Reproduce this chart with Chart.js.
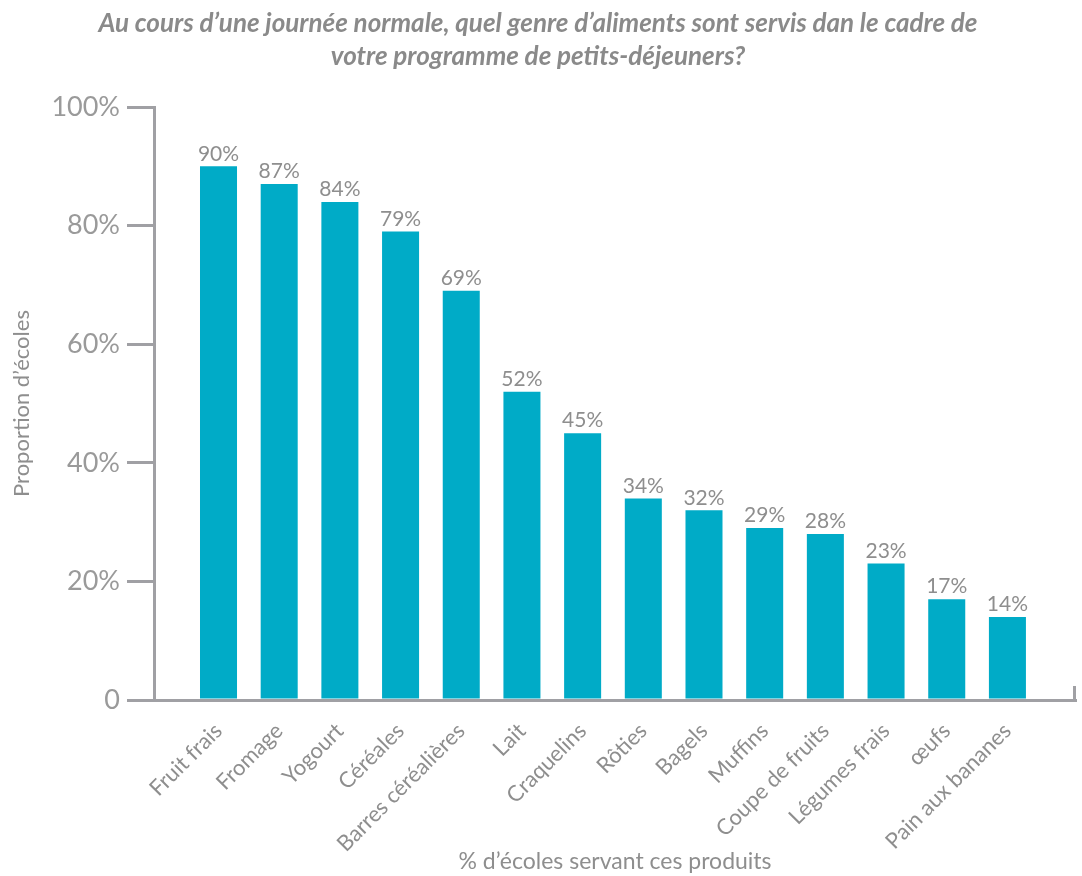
<!DOCTYPE html>
<html>
<head>
<meta charset="utf-8">
<script src="https://cdn.jsdelivr.net/npm/chart.js@4"></script>
<style>
html,body{margin:0;padding:0;background:#fff;}
#wrap{width:1082px;height:876px;position:relative;}
</style>
</head>
<body>
<div id="wrap"><canvas id="c"></canvas></div>
<script>
const categories = ["Fruit frais","Fromage","Yogourt","Céréales","Barres céréalières","Lait","Craquelins","Rôties","Bagels","Muffins","Coupe de fruits","Légumes frais","œufs","Pain aux bananes"];
const values = [90,87,84,79,69,52,45,34,32,29,28,23,17,14];
const yTicks = [0,20,40,60,80,100];
const titleLines = ["Au cours d’une journée normale, quel genre d’aliments sont servis dan le cadre de","votre programme de petits-déjeuners?"];
const xTitle = "% d’écoles servant ces produits";
const yTitle = "Proportion d’écoles";

const FONT = "Lato, 'Open Sans', sans-serif";
const AXIS = "#a0a0a4";
const TXT = "#8e8e8e";
const BAR = "#00abc7";

const valueLabels = {
  id: 'valueLabels',
  afterDatasetsDraw(chart) {
    const ctx = chart.ctx;
    const meta = chart.getDatasetMeta(0);
    ctx.save();
    ctx.font = "21px " + FONT;
    ctx.fillStyle = TXT;
    ctx.textAlign = 'center';
    ctx.textBaseline = 'bottom';
    meta.data.forEach((el, i) => {
      ctx.fillText(values[i] + '%', el.x, el.y - 2);
    });
    ctx.restore();
  }
};
const axisEnd = {
  id: 'axisEnd',
  afterDraw(chart) {
    const {ctx, chartArea} = chart;
    ctx.save();
    ctx.strokeStyle = AXIS;
    ctx.lineWidth = 3;
    ctx.beginPath();
    ctx.moveTo(chartArea.right - 1.5, chartArea.bottom - 14);
    ctx.lineTo(chartArea.right - 1.5, chartArea.bottom + 1.5);
    ctx.stroke();
    ctx.restore();
  }
};

new Chart(document.getElementById('c'), {
  type: 'bar',
  data: {
    datasets: [{
      data: values.map((v, i) => ({x: i, y: v})),
      backgroundColor: BAR,
      barPercentage: 0.61,
      categoryPercentage: 1
    }]
  },
  options: {
    responsive: true,
    maintainAspectRatio: false,
    animation: false,
    layout: {padding: {left: 0, right: 6, top: 0, bottom: 0}},
    plugins: {
      legend: {display: false},
      tooltip: {enabled: false},
      title: {
        display: true,
        text: titleLines,
        color: "#8a8a8a",
        font: {family: FONT, size: 26, style: 'italic', weight: 'bold', lineHeight: '33px'},
        padding: {top: 7, bottom: 34}
      }
    },
    scales: {
      x: {
        type: 'linear',
        offset: false,
        min: -1.063,
        max: 14.13,
        afterBuildTicks: s => { s.ticks = categories.map((_, i) => ({value: i})); },
        afterFit: s => { s.height = 176; },
        grid: {display: false},
        border: {display: true, color: AXIS, width: 3},
        ticks: {
          autoSkip: false,
          minRotation: 45, maxRotation: 45,
          padding: 10,
          color: TXT,
          font: {family: FONT, size: 22},
          callback: v => categories[v]
        },
        title: {
          display: true,
          text: xTitle,
          color: TXT,
          font: {family: FONT, size: 23},
          padding: {top: 0, bottom: 1}
        }
      },
      y: {
        min: 0,
        max: 100,
        afterBuildTicks: s => { s.ticks = yTicks.map(v => ({value: v})); },
        afterFit: s => { s.width = 154; },
        grid: {drawOnChartArea: false, drawTicks: true, tickLength: 27, lineWidth: 3, color: AXIS},
        border: {display: true, color: AXIS, width: 3},
        ticks: {
          padding: 7,
          color: "#9a9a9a",
          font: {family: FONT, size: 27},
          callback: v => v === 0 ? '0' : v + '%'
        },
        title: {
          display: true,
          text: yTitle,
          color: TXT,
          font: {family: FONT, size: 22},
          padding: {top: 9, bottom: 0}
        }
      }
    }
  },
  plugins: [valueLabels, axisEnd]
});
</script>
</body>
</html>
